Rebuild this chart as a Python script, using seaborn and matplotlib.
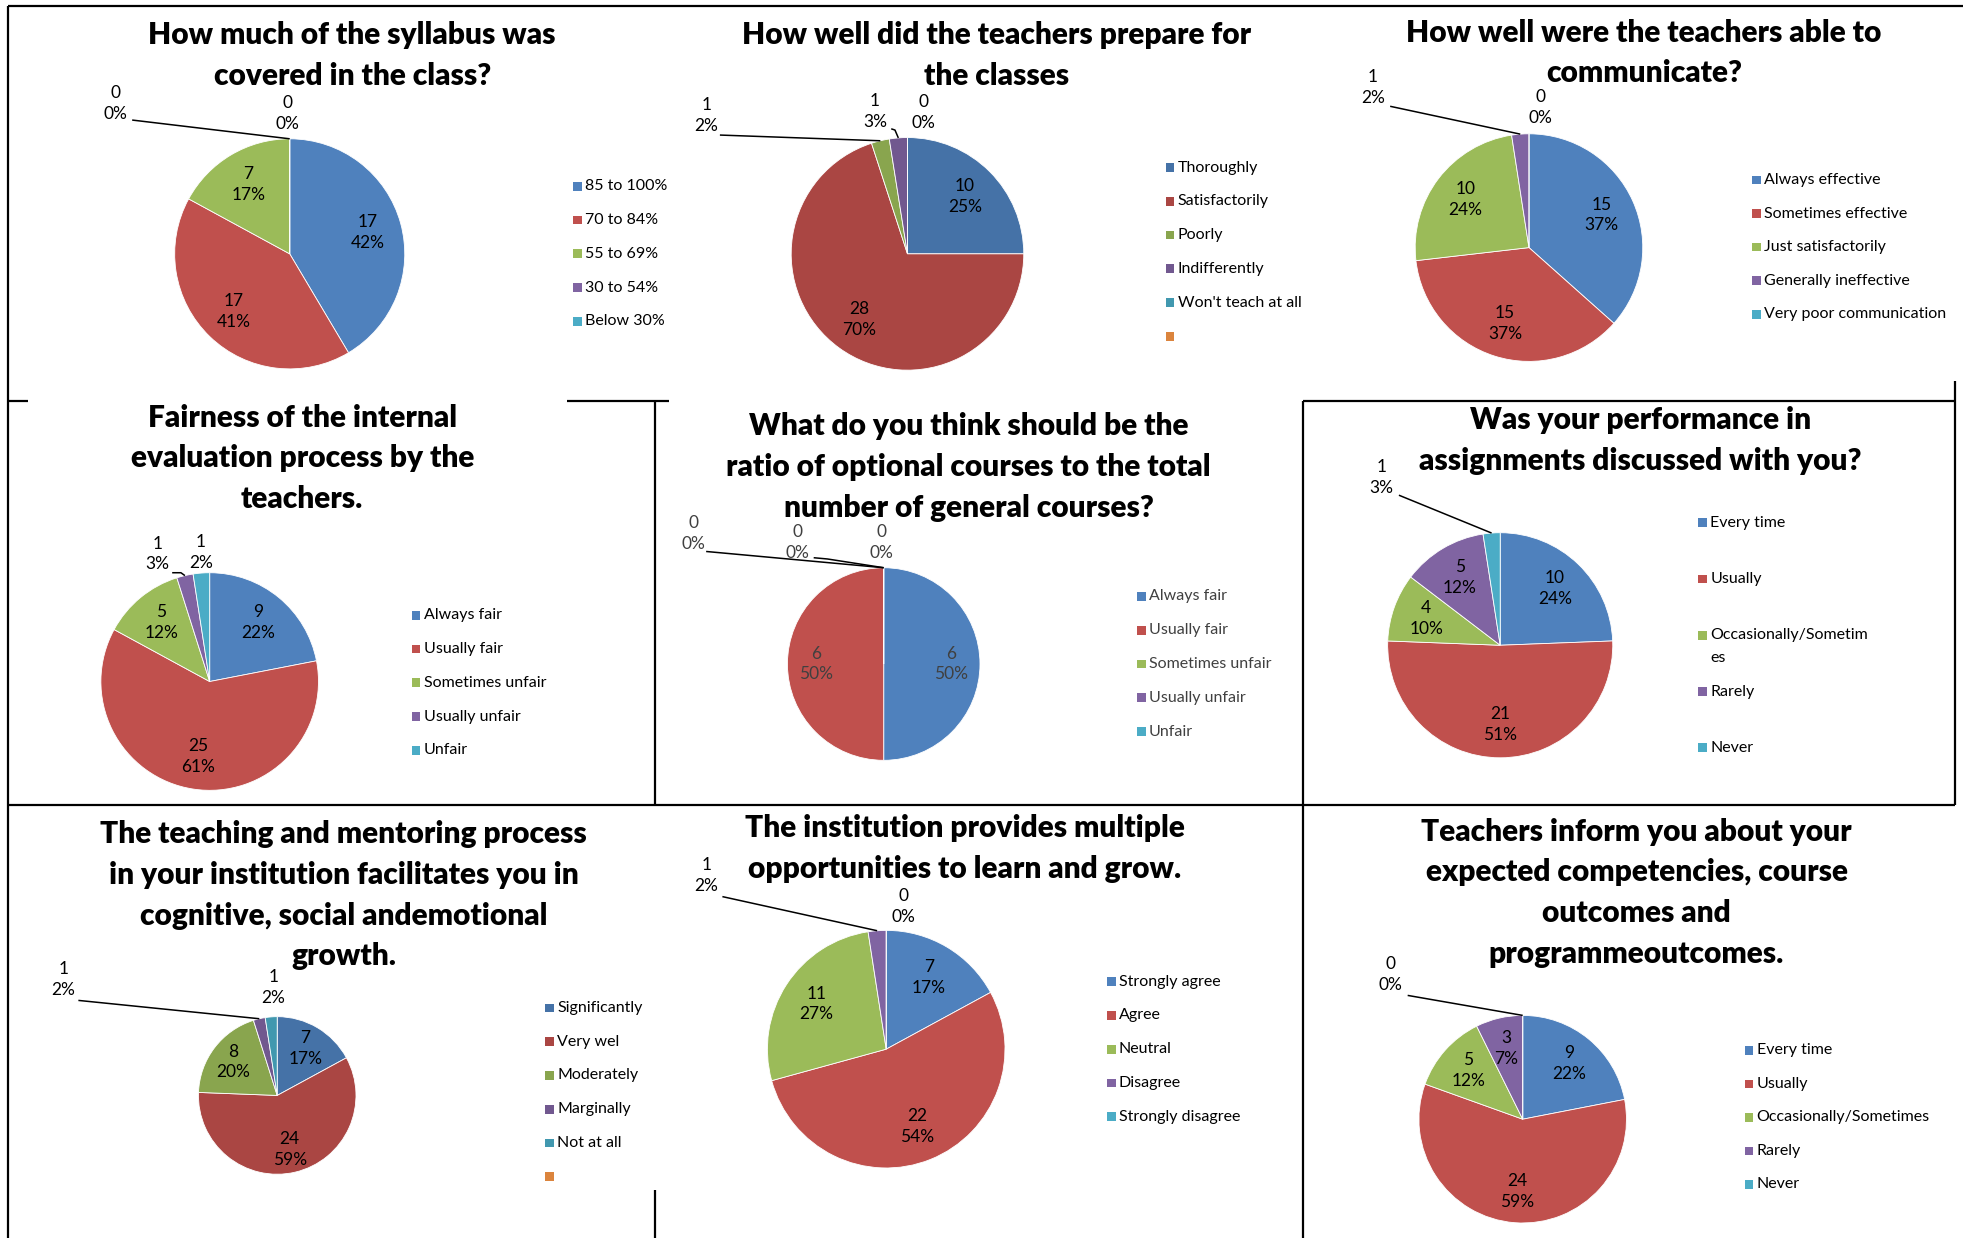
import numpy as np
import matplotlib
matplotlib.use('Agg')
import matplotlib.pyplot as plt
from matplotlib.patches import Rectangle
import seaborn as sns

# ---------------- data ----------------
title1 = "How much of the syllabus was\ncovered in the class?"
labels1 = ['85 to 100%', '70 to 84%', '55 to 69%', '30 to 54%', 'Below 30%']
values1 = [17, 17, 7, 0, 0]
pcts1 = ['42%', '41%', '17%', '0%', '0%']

title2 = "How well did the teachers prepare for\nthe classes"
labels2 = ['Thoroughly', 'Satisfactorily', 'Poorly', 'Indifferently', "Won't teach at all", '']
values2 = [10, 28, 1, 1, 0]
pcts2 = ['25%', '70%', '2%', '3%', '0%']

title3 = "How well were the teachers able to\ncommunicate?"
labels3 = ['Always effective', 'Sometimes effective', 'Just satisfactorily',
           'Generally ineffective', 'Very poor communication']
values3 = [15, 15, 10, 1, 0]
pcts3 = ['37%', '37%', '24%', '2%', '0%']

title4 = "Fairness of the internal\nevaluation process by the\nteachers."
labels4 = ['Always fair', 'Usually fair', 'Sometimes unfair', 'Usually unfair', 'Unfair']
values4 = [9, 25, 5, 1, 1]
pcts4 = ['22%', '61%', '12%', '3%', '2%']

title5 = "What do you think should be the\nratio of optional courses to the total\nnumber of general courses?"
labels5 = ['Always fair', 'Usually fair', 'Sometimes unfair', 'Usually unfair', 'Unfair']
values5 = [6, 6, 0, 0, 0]
pcts5 = ['50%', '50%', '0%', '0%', '0%']

title6 = "Was your performance in\nassignments discussed with you?"
labels6 = ['Every time', 'Usually', 'Occasionally/Sometim\nes', 'Rarely', 'Never']
values6 = [10, 21, 4, 5, 1]
pcts6 = ['24%', '51%', '10%', '12%', '3%']

title7 = ("The teaching and mentoring process\nin your institution facilitates you in\n"
          "cognitive, social andemotional\ngrowth.")
labels7 = ['Significantly', 'Very wel', 'Moderately', 'Marginally', 'Not at all', '']
values7 = [7, 24, 8, 1, 1]
pcts7 = ['17%', '59%', '20%', '2%', '2%']

title8 = "The institution provides multiple\nopportunities to learn and grow."
labels8 = ['Strongly agree', 'Agree', 'Neutral', 'Disagree', 'Strongly disagree']
values8 = [7, 22, 11, 1, 0]
pcts8 = ['17%', '54%', '27%', '2%', '0%']

title9 = "Teachers inform you about your\nexpected competencies, course\noutcomes and\nprogrammeoutcomes."
labels9 = ['Every time', 'Usually', 'Occasionally/Sometimes', 'Rarely', 'Never']
values9 = [9, 24, 5, 3, 0]
pcts9 = ['22%', '59%', '12%', '7%', '0%']

# ---------------- styling ----------------
sns.set_theme(style='white')
plt.rcParams['font.family'] = ['Lato', 'DejaVu Sans']

office = sns.color_palette(['#4F81BD', '#C0504D', '#9BBB59', '#8064A2', '#4BACC6', '#F79646'])
dark = sns.color_palette(['#4572A7', '#AA4643', '#89A54E', '#71588F', '#4198AF', '#DB843D'])

W, H = 1568, 990
TITLE_FS = 21.5
LABEL_FS = 12.5
LEGEND_FS = 11.5

# layout (image coords, y from top)
panels = [
    dict(t=title1, lab=labels1, v=values1, p=pcts1, pal=office, c=(230, 203), r=92,
         tx=280, ty=28, leg=(460, 149, 27), clip=533,
         call=[(3, 91, 83, [(104, 96)]), (4, 228, 91, None)]),
    dict(t=title2, lab=labels2, v=values2, p=pcts2, pal=dark, c=(724, 203), r=93,
         tx=795, ty=28, leg=(934, 134, 27), clip=None,
         call=[(2, 563, 92, [(574, 108)]), (3, 698, 89, [(711, 103), (714, 104)]),
               (4, 737, 90, None)]),
    dict(t=title3, lab=labels3, v=values3, p=pcts3, pal=office, c=(1221, 198), r=91,
         tx=1313, ty=26, leg=(1403, 144, 26.8), clip=None,
         call=[(3, 1096, 70, [(1110, 85)]), (4, 1230, 86, None)]),
    dict(t=title4, lab=labels4, v=values4, p=pcts4, pal=office, c=(166, 545), r=87,
         tx=240, ty=334, leg=(331, 492, 27), clip=None,
         call=[(3, 124, 443, [(136, 458), (143, 458)]), (4, 159, 442, None)]),
    dict(t=title5, lab=labels5, v=values5, p=pcts5, pal=office, c=(705, 531), r=77,
         tx=773, ty=341, leg=(911, 477, 27), clip=None, faded=True,
         call=[(2, 553, 427, [(563, 441)]), (3, 636, 434, [(649, 446), (660, 447)]),
               (4, 703, 434, None)]),
    dict(t=title6, lab=labels6, v=values6, p=pcts6, pal=office, c=(1198, 516), r=90,
         tx=1310, ty=336, leg=(1360, 418, 45), clip=None,
         call=[(4, 1103, 382, [(1117, 396)])]),
    dict(t=title7, lab=labels7, v=values7, p=pcts7, pal=dark, c=(220, 876), r=63,
         tx=273, ty=667, leg=(438, 806, 27), clip=None,
         call=[(3, 49, 783, [(61, 800)]), (4, 217, 790, None)]),
    dict(t=title8, lab=labels8, v=values8, p=pcts8, pal=office, c=(707, 839), r=95,
         tx=770, ty=662, leg=(887, 785, 27), clip=None,
         call=[(3, 563, 700, [(576, 717)]), (4, 721, 725, None)]),
    dict(t=title9, lab=labels9, v=values9, p=pcts9, pal=office, c=(1216, 895), r=83,
         tx=1307, ty=665, leg=(1397, 840, 26.8), clip=None,
         call=[(4, 1110, 779, [(1124, 796)])]),
]

fig = plt.figure(figsize=(19.65, 12.38), dpi=100)
ax = fig.add_axes([0, 0, 1, 1])


def Y(y):
    return H - y


for pn in panels:
    cx, cy = pn['c']
    r = pn['r']
    faded = pn.get('faded', False)
    txtcol = '#404040' if faded else 'black'
    wedges, _ = ax.pie(pn['v'], colors=pn['pal'][:len(pn['v'])], startangle=90,
                       counterclock=False, center=(cx, Y(cy)), radius=r, frame=True,
                       wedgeprops=dict(edgecolor='white', linewidth=0.6))

    # title
    for i, line in enumerate(pn['t'].split('\n')):
        ax.text(pn['tx'], Y(pn['ty'] + i * 32.6), line, ha='center', va='center',
                fontsize=TITLE_FS, fontweight='heavy', color='black')

    # data labels inside wedges
    called = [c[0] for c in pn['call']]
    for i, w in enumerate(wedges):
        if i in called:
            continue
        mid = np.deg2rad((w.theta1 + w.theta2) / 2)
        ax.text(cx + 0.7 * r * np.cos(mid), Y(cy) + 0.7 * r * np.sin(mid),
                f"{pn['v'][i]}\n{pn['p'][i]}", ha='center', va='center',
                fontsize=LABEL_FS, color=txtcol, linespacing=1.38)

    # callout labels with leader lines
    for idx, lx, ly, pts in pn['call']:
        ax.text(lx, Y(ly), f"{pn['v'][idx]}\n{pn['p'][idx]}", ha='center', va='center',
                fontsize=LABEL_FS, color=txtcol, linespacing=1.38)
        if pts:
            w = wedges[idx]
            mid = np.deg2rad((w.theta1 + w.theta2) / 2)
            xs = [p[0] for p in pts] + [cx + r * np.cos(mid)]
            ys = [Y(p[1]) for p in pts] + [Y(cy) + r * np.sin(mid)]
            ax.plot(xs, ys, color='black', lw=1.1, solid_capstyle='butt')

    # legend
    lx, ly, step = pn['leg']
    for i, lab in enumerate(pn['lab']):
        yy = Y(ly + i * step)
        ax.add_patch(Rectangle((lx - 3.5, yy - 3.5), 7, 7, color=pn['pal'][i], lw=0))
        t = ax.text(lx + 6, yy, lab.split('\n')[0], ha='left', va='center',
                    fontsize=LEGEND_FS, color=txtcol)
        if pn['clip']:
            t.set_clip_path(Rectangle((0, 0), pn['clip'], H, transform=ax.transData))
        if '\n' in lab:
            ax.text(lx + 6, yy - 18, lab.split('\n')[1], ha='left', va='center',
                    fontsize=LEGEND_FS, color=txtcol)

# frame lines of the collage
frame = [
    ((5, 5), (1568, 5)), ((5, 5), (5, 990)),
    ((5, 321), (21, 321)), ((452, 321), (533, 321)), ((1040, 321), (1562, 321)),
    ((1562, 305), (1562, 321)),
    ((522, 321), (522, 644)), ((1040, 321), (1040, 644)), ((1562, 321), (1562, 644)),
    ((5, 644), (1562, 644)),
    ((522, 952), (522, 990)), ((1040, 644), (1040, 990)),
]
for (x0, y0), (x1, y1) in frame:
    ax.plot([x0, x1], [Y(y0), Y(y1)], color='black', lw=1.6, solid_capstyle='butt')

ax.set_xlim(0, W)
ax.set_ylim(0, H)
ax.axis('off')

fig.savefig('out.png', dpi=100, facecolor='white')
